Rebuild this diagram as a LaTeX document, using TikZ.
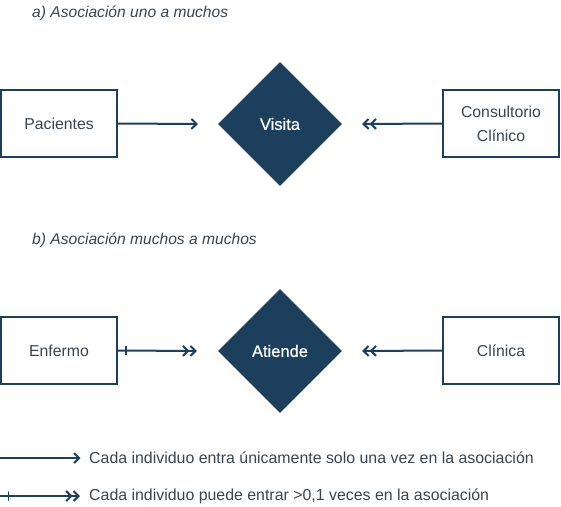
\documentclass[tikz,border=0pt]{standalone}
\usepackage{fontspec}
\setmainfont{Liberation Sans}
\usetikzlibrary{shapes.geometric,arrows.meta}
\definecolor{navy}{HTML}{1D3F5E}
\definecolor{txt}{HTML}{3A444E}
\tikzset{
  entity/.style={draw=navy, line width=2pt, rectangle, minimum width=116pt, minimum height=67pt, inner sep=0pt, text=txt, font=\fontsize{15.8}{24}\selectfont, align=center},
  relation/.style={diamond, fill=navy, minimum width=124pt, minimum height=124pt, inner sep=0pt, text=white, font=\fontsize{16.5}{20}\selectfont\addfontfeature{FakeBold=0.6}},
  conn/.style={draw=navy, line width=2pt},
  one/.style={-{Straight Barb[length=5pt,width=10pt]}},
  many/.style={-{Straight Barb[length=5pt,width=10pt] Straight Barb[length=5pt,width=10pt]}},
  tick/.style={draw=navy, line width=1.5pt, minimum width=0pt, minimum height=9pt, inner sep=0pt, outer sep=0pt, rectangle},
  heading/.style={anchor=base west, text=txt, font=\fontsize{15.6}{18}\selectfont\itshape, inner sep=0pt},
  legend/.style={anchor=west, text=txt, font=\fontsize{15.9}{18}\selectfont, inner sep=0pt}
}
\begin{document}
\begin{tikzpicture}[x=1pt,y=-1pt]
\useasboundingbox (0,0) rectangle (561,506);
% headings
\node[heading] (ha) at (32,17) {a) Asociación uno a muchos};
\node[heading] (hb) at (32,244) {b) Asociación muchos a muchos};
% part a
\node[entity] (pac) at (59,123.5) {Pacientes};
\node[relation] (vis) at (280,124) {Visita};
\node[entity] (con) at (501,123.5) {Consultorio\\Clínico};
\draw[conn,one] (pac.east) -- ([xshift=-20pt]vis.west);
\draw[conn,many] (con.west) -- ([xshift=20pt]vis.east);
% part b
\node[entity] (enf) at (59,350.5) {Enfermo};
\node[relation] (ati) at (280,351) {Atiende};
\node[entity] (cli) at (501,350.5) {Clínica};
\draw[conn,many] (enf.east) -- node[tick, pos=0.1] (t1) {} ([xshift=-21pt]ati.west);
\draw[conn,many] (cli.west) -- ([xshift=20pt]ati.east);
% legend
\coordinate (l1a) at (0,458);
\coordinate (l1b) at (80.5,458);
\coordinate (l2a) at (0,496);
\coordinate (l2b) at (80,496);
\draw[conn,one] (l1a) -- (l1b);
\node[legend] (lt1) at (89,458) {Cada individuo entra únicamente solo una vez en la asociación};
\draw[conn,many] (l2a) -- node[tick, pos=0.105] (t2) {} (l2b);
\node[legend] (lt2) at (89,496) {Cada individuo puede entrar >0,1 veces en la asociación};
\end{tikzpicture}
\end{document}
